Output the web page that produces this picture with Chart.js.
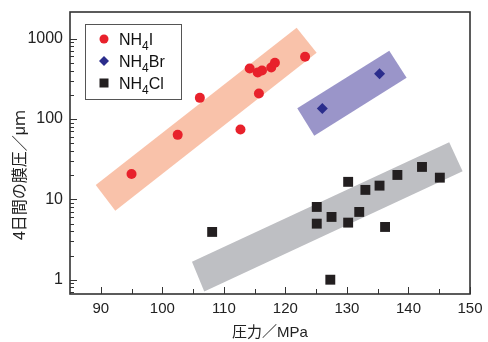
<!DOCTYPE html>
<html><head><meta charset="utf-8">
<script src="https://cdn.jsdelivr.net/npm/chart.js@4/dist/chart.umd.min.js"></script>
<style>html,body{margin:0;padding:0;background:#fff;}#wrap{width:488px;height:342px;}</style>
</head><body><div id="wrap"><canvas id="c" width="488" height="342"></canvas></div>
<script>
// ---- data ----
const seriesNames = ['NH4I', 'NH4Br', 'NH4Cl'];
const nh4iX = [95.0, 102.5, 106.1, 112.7, 114.2, 115.5, 115.7, 116.2, 117.7, 118.3, 123.2];
const nh4iY = [20.7, 63.4, 183, 73.8, 424, 378, 207, 401, 437, 500, 593];
const nh4brX = [126.0, 135.3];
const nh4brY = [135, 365];
const nh4clX = [108.1, 125.1, 125.1, 127.5, 127.3, 130.2, 130.2, 132.0, 133.0, 135.3, 136.2, 138.2, 142.2, 145.1];
const nh4clY = [3.93, 8.04, 4.98, 6.04, 1.0, 16.5, 5.13, 6.97, 13.1, 14.8, 4.53, 20.1, 25.3, 18.6];
// trend bands (polygon corners in data units)
const bandIX = [89.18, 121.83, 125.08, 92.36];
const bandIY = [15.1, 1362, 665, 7.23];
const bandBrX = [121.93, 136.88, 139.70, 124.69];
const bandBrY = [136, 705, 325, 61.6];
const bandClX = [104.82, 146.62, 148.80, 106.82];
const bandClY = [1.675, 51.3, 22.3, 0.715];
const xTicks = [90, 100, 110, 120, 130, 140, 150];
const yTicks = [1, 10, 100, 1000];
const xRange = [85, 150];
const yRange = [0.664, 2140];
const xTitle = '圧力／MPa';
const yTitle = '4日間の膜圧／μｍ';

// ---- helpers ----
const pts = (xs, ys) => xs.map((v, i) => ({x: v, y: ys[i]}));
const poly = (xs, ys) => { const p = pts(xs, ys); p.push(p[0]); return p; };

const colors = {
  nh4i: '#e8212b', nh4br: '#2b2d8c', nh4cl: '#231f20',
  bandI: '#f9c2aa', bandBr: '#9a95c9', bandCl: '#bebfc3'
};
const numFont = '"Liberation Sans", Arial, sans-serif';
const jpFont = '"Liberation Sans", "Noto Sans CJK JP", sans-serif';

function drawFormula(ctx, text, x, y) {
  const parts = text.split(/(\d+)/);
  let cx = x;
  parts.forEach(p => {
    if (!p) return;
    const sub = /^\d+$/.test(p);
    ctx.font = (sub ? '12px ' : '16px ') + numFont;
    ctx.fillText(p, cx, y + (sub ? 5 : 0));
    cx += ctx.measureText(p).width;
  });
}

const framePlugin = {
  id: 'frame',
  afterDraw(chart) {
    const {ctx, chartArea: a, scales: {x, y}} = chart;
    ctx.save();
    // tick marks (inward)
    ctx.strokeStyle = '#333';
    ctx.lineWidth = 1;
    ctx.beginPath();
    xTicks.forEach(v => {
      const px = Math.round(x.getPixelForValue(v)) + 0.5;
      ctx.moveTo(px, a.bottom); ctx.lineTo(px, a.bottom - 7);
    });
    for (let i = 0; i < xTicks.length - 1; i++) {
      const v = (xTicks[i] + xTicks[i + 1]) / 2;
      const px = Math.round(x.getPixelForValue(v)) + 0.5;
      ctx.moveTo(px, a.bottom); ctx.lineTo(px, a.bottom - 5);
    }
    yTicks.forEach(v => {
      const py = Math.round(y.getPixelForValue(v)) + 0.5;
      ctx.moveTo(a.left, py); ctx.lineTo(a.left + 7, py);
    });
    for (let d = 0.1; d < 1000; d *= 10) {
      for (let m = 2; m <= 9; m++) {
        const v = d * m;
        if (v < yRange[0] || v > 1000) continue;
        const py = Math.round(y.getPixelForValue(v)) + 0.5;
        ctx.moveTo(a.left, py); ctx.lineTo(a.left + 4, py);
      }
    }
    ctx.stroke();
    // frame
    ctx.strokeStyle = '#333';
    ctx.lineWidth = 1.6;
    ctx.strokeRect(a.left, a.top, a.right - a.left, a.bottom - a.top);

    // legend
    const lx = 85, ly = 24, lw = 96, lh = 75;
    ctx.fillStyle = '#fff';
    ctx.fillRect(lx, ly, lw, lh);
    ctx.strokeStyle = '#555';
    ctx.lineWidth = 1;
    ctx.strokeRect(lx + 0.5, ly + 0.5, lw, lh);
    const rows = [39, 61, 83];
    const mx = 104;
    ctx.fillStyle = colors.nh4i;
    ctx.beginPath(); ctx.arc(mx, rows[0], 4.5, 0, Math.PI * 2); ctx.fill();
    ctx.fillStyle = colors.nh4br;
    ctx.beginPath();
    ctx.moveTo(mx, rows[1] - 5); ctx.lineTo(mx + 5, rows[1]); ctx.lineTo(mx, rows[1] + 5); ctx.lineTo(mx - 5, rows[1]);
    ctx.closePath(); ctx.fill();
    ctx.fillStyle = colors.nh4cl;
    ctx.fillRect(mx - 4.5, rows[2] - 4.5, 9, 9);
    ctx.fillStyle = '#111';
    ctx.textBaseline = 'alphabetic';
    ctx.textAlign = 'left';
    seriesNames.forEach((n, i) => drawFormula(ctx, n, 119, rows[i] + 6));

    // y title
    ctx.translate(21, 175);
    ctx.rotate(-Math.PI / 2);
    ctx.textAlign = 'center';
    ctx.textBaseline = 'middle';
    ctx.fillStyle = '#222';
    ctx.font = '16px ' + jpFont;
    ctx.fillText(yTitle, 0, 0);
    ctx.restore();
  }
};

const zeroPad = s => { s.paddingTop = 0; s.paddingBottom = 0; s.paddingLeft = 0; s.paddingRight = 0; };

new Chart(document.getElementById('c'), {
  type: 'scatter',
  data: {
    datasets: [
      {label: seriesNames[0], data: pts(nh4iX, nh4iY), pointStyle: 'circle', pointRadius: 5, backgroundColor: colors.nh4i, borderWidth: 0, order: 1},
      {label: seriesNames[1], data: pts(nh4brX, nh4brY), pointStyle: 'rectRot', pointRadius: 5.5, backgroundColor: colors.nh4br, borderWidth: 0, order: 1},
      {label: seriesNames[2], data: pts(nh4clX, nh4clY), pointStyle: 'rect', pointRadius: 7, backgroundColor: colors.nh4cl, borderWidth: 0, order: 1},
      {label: 'bandI', type: 'line', data: poly(bandIX, bandIY), showLine: true, fill: 'shape', backgroundColor: colors.bandI, borderColor: colors.bandI, borderWidth: 0, pointRadius: 0, tension: 0, order: 5},
      {label: 'bandBr', type: 'line', data: poly(bandBrX, bandBrY), showLine: true, fill: 'shape', backgroundColor: colors.bandBr, borderColor: colors.bandBr, borderWidth: 0, pointRadius: 0, tension: 0, order: 5},
      {label: 'bandCl', type: 'line', data: poly(bandClX, bandClY), showLine: true, fill: 'shape', backgroundColor: colors.bandCl, borderColor: colors.bandCl, borderWidth: 0, pointRadius: 0, tension: 0, order: 5}
    ]
  },
  options: {
    responsive: false,
    animation: false,
    layout: {padding: {top: 12, right: 18, left: 0, bottom: 0}},
    plugins: {legend: {display: false}, tooltip: {enabled: false}},
    scales: {
      x: {
        type: 'linear', min: xRange[0], max: xRange[1],
        afterBuildTicks: s => { s.ticks = xTicks.map(v => ({value: v})); },
        afterFit: s => { s.height = 48; zeroPad(s); },
        grid: {display: false, drawTicks: false},
        border: {display: false},
        ticks: {padding: 6, color: '#222', font: {family: numFont, size: 15}, callback: v => String(v)},
        title: {display: true, text: xTitle, color: '#222', font: {family: jpFont, size: 15}, padding: {top: 0, bottom: 0}}
      },
      y: {
        type: 'logarithmic', min: yRange[0], max: yRange[1],
        afterBuildTicks: s => { s.ticks = yTicks.map(v => ({value: v})); },
        afterFit: s => { s.width = 70; zeroPad(s); },
        grid: {display: false, drawTicks: false},
        border: {display: false},
        ticks: {padding: 7, color: '#222', font: {family: numFont, size: 16}, callback: v => String(v)}
      }
    }
  },
  plugins: [framePlugin]
});
</script>
</body></html>
